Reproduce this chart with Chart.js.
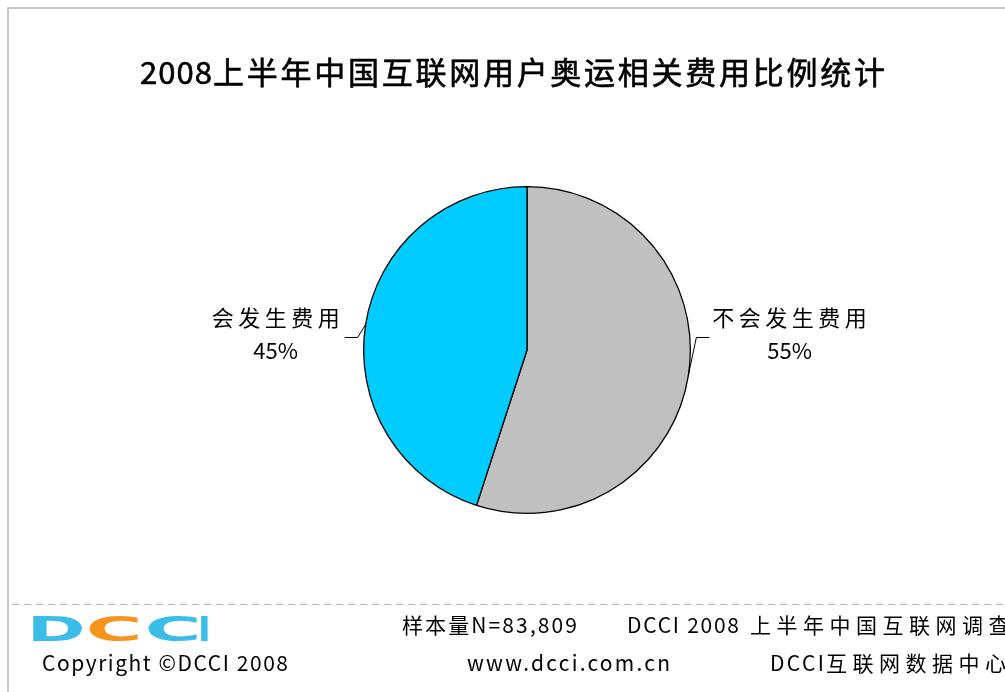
<!DOCTYPE html>
<html>
<head>
<meta charset="utf-8">
<script src="https://cdn.jsdelivr.net/npm/chart.js@4.4.1/dist/chart.umd.min.js"></script>
<style>
  html, body { margin: 0; padding: 0; background: #fff; }
  #wrap { position: relative; width: 1005px; height: 692px; overflow: hidden; }
</style>
</head>
<body>
<div id="wrap"><canvas id="pieChart" width="1005" height="692"></canvas></div>
<script>
// chart data
const titleDigits = '2008';
const titleRest = '上半年中国互联网用户奥运相关费用比例统计';
const categories = ['不会发生费用', '会发生费用'];
const shares = [55, 45];
const sliceColors = ['#c0c0c0', '#00ccff'];

// footer texts
const logoLetters = ['D', 'C', 'C', 'I'];
const logoColors = ['#3bbde9', '#f7941e', '#3bbde9', '#3bbde9'];
const footerTexts = [
    { text: '样本量N=83,809', x: 402, y: 625, width: 175 },
    { text: 'DCCI 2008', x: 627, y: 625, width: 112 },
    { text: '上半年中国互联网调查', x: 750, y: 625, spacing: 5.5 },
    { text: 'Copyright ©DCCI 2008', x: 42, y: 663, width: 246 },
    { text: 'www.dcci.com.cn', x: 467, y: 663, width: 203 },
    { text: 'DCCI', x: 770, y: 663, width: 54 },
    { text: '互联网数据中心', x: 826, y: 663, spacing: 5.5 }
];

const FONT = '"Noto Sans CJK SC", "Noto Sans", sans-serif';

// draw text starting at x, either stretched to a width or with fixed letter spacing
function drawSpaced(ctx, text, x, y, font, opts) {
    ctx.font = font;
    ctx.letterSpacing = '0px';
    const n = Array.from(text).length;
    const raw = ctx.measureText(text).width;
    let sp = opts.spacing || 0;
    if (opts.width) sp = (opts.width - raw) / Math.max(n - 1, 1);
    const w = raw + sp * (n - 1);
    let x0 = x;
    if (opts.align === 'center') x0 = x - w / 2;
    if (opts.align === 'right') x0 = x - w;
    ctx.letterSpacing = sp + 'px';
    ctx.textAlign = 'left';
    ctx.textBaseline = 'middle';
    ctx.fillText(text, x0, y);
    if (opts.stroke) {
        ctx.lineWidth = opts.stroke;
        ctx.strokeStyle = ctx.fillStyle;
        ctx.strokeText(text, x0, y);
    }
    ctx.letterSpacing = '0px';
    return w;
}

const framePlugin = {
    id: 'frame',
    beforeDraw(chart) {
        const ctx = chart.ctx;
        ctx.save();
        ctx.fillStyle = '#fff';
        ctx.fillRect(0, 0, chart.width, chart.height);

        // outer border (top + left)
        ctx.strokeStyle = '#c8c8c8';
        ctx.lineWidth = 2;
        ctx.beginPath();
        ctx.moveTo(8, chart.height);
        ctx.lineTo(8, 8);
        ctx.lineTo(chart.width, 8);
        ctx.stroke();

        // title
        ctx.fillStyle = '#000';
        drawSpaced(ctx, titleDigits, 140, 72, '31px ' + FONT, { width: 72, stroke: 0.6 });
        drawSpaced(ctx, titleRest, 213, 72, '31px ' + FONT, { width: 672, stroke: 0.6 });

        // footer separator
        ctx.strokeStyle = '#b4b4b4';
        ctx.lineWidth = 1;
        ctx.setLineDash([7, 5]);
        ctx.beginPath();
        ctx.moveTo(12, 604.5);
        ctx.lineTo(chart.width, 604.5);
        ctx.stroke();
        ctx.setLineDash([]);

        // logo
        const boxes = [[33, 50], [88, 50], [147, 50], [201, 7]];
        ctx.font = 'bold 34px "DejaVu Sans", sans-serif';
        ctx.textBaseline = 'alphabetic';
        ctx.textAlign = 'left';
        logoLetters.forEach((ch, i) => {
            const m = ctx.measureText(ch);
            const gw = m.actualBoundingBoxRight + m.actualBoundingBoxLeft;
            const sx = boxes[i][1] / gw;
            ctx.save();
            ctx.translate(boxes[i][0], 641);
            ctx.scale(sx, 1);
            ctx.fillStyle = logoColors[i];
            ctx.fillText(ch, m.actualBoundingBoxLeft, 0);
            ctx.restore();
        });

        // footer texts
        ctx.fillStyle = '#000';
        footerTexts.forEach(f => {
            drawSpaced(ctx, f.text, f.x, f.y, '21px ' + FONT, f);
        });
        ctx.restore();
    },
    afterDatasetsDraw(chart) {
        const ctx = chart.ctx;
        const meta = chart.getDatasetMeta(0);
        ctx.save();
        meta.data.forEach((arc, i) => {
            const p = arc.getProps(['x', 'y', 'startAngle', 'endAngle', 'outerRadius'], true);
            const mid = (p.startAngle + p.endAngle) / 2;
            const ax = p.x + Math.cos(mid) * p.outerRadius;
            const ay = p.y + Math.sin(mid) * p.outerRadius;
            const dir = Math.cos(mid) >= 0 ? 1 : -1;
            const ex = ax + dir * 8;
            const ey = p.y - 13;
            const tx = ex + dir * 13;

            ctx.strokeStyle = '#000';
            ctx.lineWidth = 1;
            ctx.beginPath();
            ctx.moveTo(ax, ay);
            ctx.lineTo(ex, ey + 0.5);
            ctx.lineTo(tx, ey + 0.5);
            ctx.stroke();

            const line1 = categories[i];
            const line2 = shares[i] + '%';
            ctx.font = '22px ' + FONT;
            const w1 = ctx.measureText(line1).width + 4.5 * (line1.length - 1);
            const w2 = ctx.measureText(line2).width;
            const w = Math.max(w1, w2);
            const cx = dir > 0 ? tx + 3 + w / 2 : tx - 5 - w / 2;
            ctx.fillStyle = '#000';
            drawSpaced(ctx, line1, cx, ey - 19, '22px ' + FONT, { spacing: 4.5, align: 'center' });
            drawSpaced(ctx, line2, cx, ey + 14, '22px ' + FONT, { align: 'center' });
        });
        ctx.restore();
    }
};

new Chart(document.getElementById('pieChart'), {
    type: 'pie',
    data: {
        labels: categories,
        datasets: [{
            data: shares,
            backgroundColor: sliceColors,
            borderColor: '#000',
            borderWidth: 1.3,
            hoverOffset: 0
        }]
    },
    options: {
        responsive: false,
        animation: false,
        layout: {
            padding: { left: 363, right: 314, top: 186, bottom: 178 }
        },
        plugins: {
            legend: { display: false },
            title: { display: false },
            tooltip: { enabled: false }
        }
    },
    plugins: [framePlugin]
});
</script>
</body>
</html>
